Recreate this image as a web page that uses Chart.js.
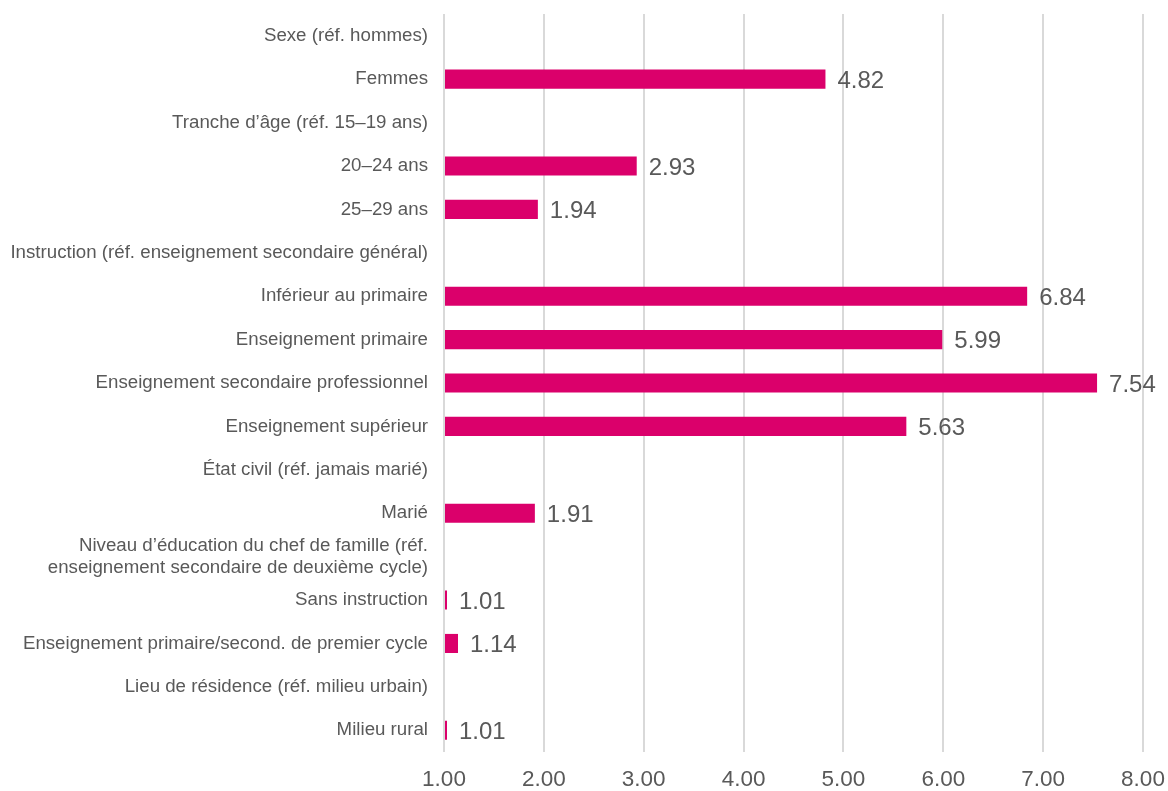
<!DOCTYPE html>
<html lang="fr">
<head>
<meta charset="utf-8">
<title>Rapports de cotes</title>
<script src="https://cdn.jsdelivr.net/npm/chart.js@4.4.1/dist/chart.umd.min.js"></script>
<style>
    html, body { margin: 0; padding: 0; background: #ffffff; }
    #wrap { position: relative; width: 1168px; height: 791px; }
</style>
</head>
<body>
<div id="wrap"><canvas id="oddsChart"></canvas></div>
<script>
// Row labels, top to bottom (header rows carry no value)
const categories = [
    'Sexe (réf. hommes)',
    'Femmes',
    'Tranche d’âge (réf. 15–19 ans)',
    '20–24 ans',
    '25–29 ans',
    'Instruction (réf. enseignement secondaire général)',
    'Inférieur au primaire',
    'Enseignement primaire',
    'Enseignement secondaire professionnel',
    'Enseignement supérieur',
    'État civil (réf. jamais marié)',
    'Marié',
    ['Niveau d’éducation du chef de famille (réf.', 'enseignement secondaire de deuxième cycle)'],
    'Sans instruction',
    'Enseignement primaire/second. de premier cycle',
    'Lieu de résidence (réf. milieu urbain)',
    'Milieu rural'
];

const oddsRatios = [null, 4.82, null, 2.93, 1.94, null, 6.84, 5.99, 7.54, 5.63, null, 1.91, null, 1.01, 1.14, null, 1.01];

const xTicks = [1, 2, 3, 4, 5, 6, 7, 8];

const textColor = '#595959';
const barColor = '#DB006B';
const fontFamily = '"Liberation Sans", Arial, sans-serif';

// Writes each value just past the end of its bar
const valueLabels = {
    id: 'valueLabels',
    afterDatasetsDraw(chart) {
        const ctx = chart.ctx;
        const meta = chart.getDatasetMeta(0);
        ctx.save();
        ctx.font = '24px ' + fontFamily;
        ctx.fillStyle = textColor;
        ctx.textAlign = 'left';
        ctx.textBaseline = 'middle';
        meta.data.forEach(function(bar, i) {
            const v = oddsRatios[i];
            if (v === null) return;
            ctx.fillText(v.toFixed(2), bar.x + 12, bar.y + 2);
        });
        ctx.restore();
    }
};

const ctx = document.getElementById('oddsChart').getContext('2d');
new Chart(ctx, {
    type: 'bar',
    data: {
        labels: categories,
        datasets: [{
            data: oddsRatios,
            base: 1,
            backgroundColor: barColor,
            borderWidth: 0,
            minBarLength: 3,
            categoryPercentage: 0.44,
            barPercentage: 1
        }]
    },
    options: {
        indexAxis: 'y',
        responsive: true,
        maintainAspectRatio: false,
        animation: false,
        layout: {
            padding: { top: 14, right: 25, bottom: 0, left: 0 }
        },
        plugins: {
            legend: { display: false },
            tooltip: { enabled: false }
        },
        scales: {
            x: {
                min: xTicks[0],
                max: xTicks[xTicks.length - 1],
                afterBuildTicks: function(axis) {
                    axis.ticks = xTicks.map(v => ({ value: v }));
                },
                afterFit: function(axis) {
                    axis.height = 39;
                    axis.paddingLeft = 0;
                    axis.paddingRight = 0;
                },
                ticks: {
                    callback: v => Number(v).toFixed(2),
                    color: textColor,
                    font: { family: fontFamily, size: 22.5 },
                    padding: 14,
                    maxRotation: 0
                },
                grid: {
                    color: '#d9d9d9',
                    lineWidth: 2,
                    drawTicks: false
                },
                border: { display: false }
            },
            y: {
                afterFit: function(axis) {
                    axis.width = 444;
                    axis.paddingTop = 0;
                    axis.paddingBottom = 0;
                },
                ticks: {
                    color: textColor,
                    font: { family: fontFamily, size: 18.7 },
                    padding: 16,
                    autoSkip: false
                },
                grid: { display: false, drawTicks: false },
                border: { display: false }
            }
        }
    },
    plugins: [valueLabels]
});
</script>
</body>
</html>
